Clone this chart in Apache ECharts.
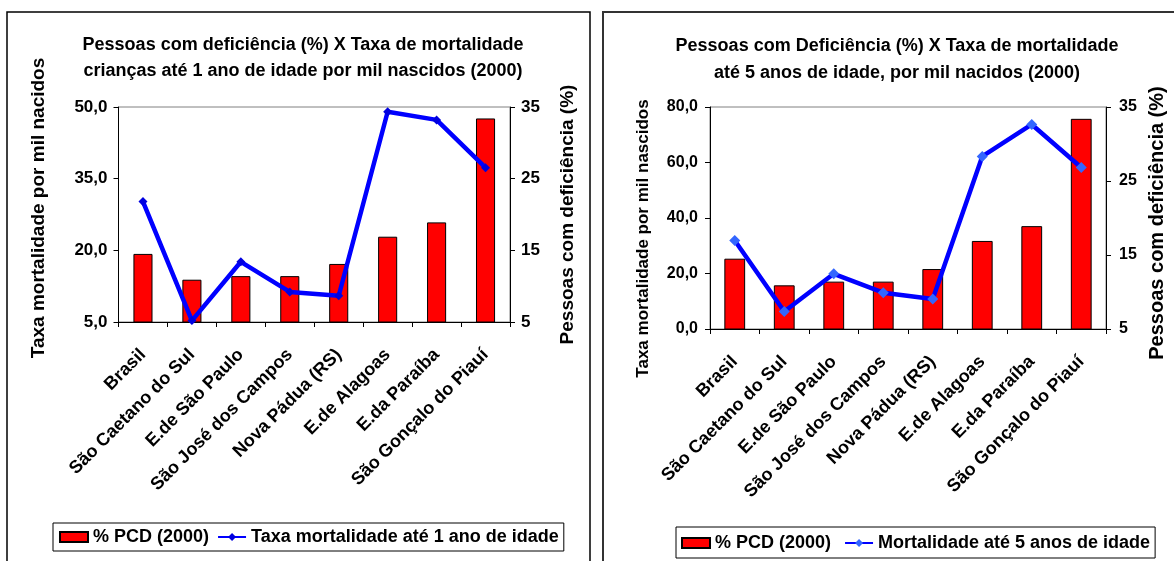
<!DOCTYPE html>
<html>
<head>
<meta charset="utf-8">
<script src="https://cdn.jsdelivr.net/npm/echarts@6/dist/echarts.min.js"></script>
<style>
  html, body { margin: 0; padding: 0; background: #fff; }
  #chart { width: 1174px; height: 561px; }
</style>
</head>
<body>
<div id="chart"></div>
<script>
// municípios / estados comparados
const categories = [
  'Brasil', 'São Caetano do Sul', 'E.de São Paulo', 'São José dos Campos',
  'Nova Pádua (RS)', 'E.de Alagoas', 'E.da Paraíba', 'São Gonçalo do Piauí'
]
// % de pessoas com deficiência (eixo direito)
const pcd = [14.5, 10.9, 11.4, 11.4, 13.1, 16.9, 18.9, 33.4]
// mortalidade até 1 ano, por mil nascidos
const mort1 = [30.2, 5.3, 17.6, 11.3, 10.5, 49.0, 47.3, 37.3]
// mortalidade até 5 anos, por mil nascidos
const mort5 = [31.9, 6.3, 19.9, 13.1, 10.8, 62.2, 73.7, 58.2]

const font = 'Liberation Sans, Arial, sans-serif'
const fmt1 = (v) => v.toFixed(1).replace('.', ',')
const bold = (size) => ({ color: '#000', fontFamily: font, fontWeight: 'bold', fontSize: size })

const chart = echarts.init(document.getElementById('chart'), undefined, { renderer: 'canvas' })

const xAxisBase = {
  type: 'category',
  data: categories,
  axisLine: { lineStyle: { color: '#000', width: 1 } },
  axisTick: { show: true, length: 5, lineStyle: { color: '#000' } },
  axisLabel: { ...bold(18), rotate: 45, margin: 30, interval: 0 },
  splitLine: { show: false }
}

const yBase = {
  type: 'value',
  nameLocation: 'middle',
  nameRotate: 90,
  axisLine: { show: true, lineStyle: { color: '#000', width: 1 } },
  axisTick: { show: true, length: 5, lineStyle: { color: '#000' } },
  splitLine: { show: false }
}

const titleStyle = { ...bold(18), lineHeight: 26 }

chart.setOption({
  animation: false,
  backgroundColor: '#fff',
  graphic: [
    { type: 'rect', shape: { x: 7, y: 12, width: 583, height: 580 },
      style: { fill: 'none', stroke: '#000', lineWidth: 1.5 } },
    { type: 'rect', shape: { x: 603, y: 12, width: 620, height: 580 },
      style: { fill: 'none', stroke: '#333', lineWidth: 2 } }
  ],
  title: [
    { text: 'Pessoas com deficiência (%) X Taxa de mortalidade\ncrianças até 1 ano de idade por mil nascidos (2000)',
      left: 298, top: 27, textAlign: 'center', textStyle: titleStyle },
    { text: 'Pessoas com Deficiência (%) X Taxa de mortalidade\naté 5 anos de idade, por mil nacidos (2000)',
      left: 892, top: 28, textAlign: 'center', textStyle: { ...titleStyle, lineHeight: 27 } }
  ],
  legend: [
    { left: 53, top: 523, padding: [5, 5, 5, 6],
      borderColor: '#000', borderWidth: 1, itemGap: 8, itemWidth: 28, itemHeight: 10,
      textStyle: bold(18),
      data: [{ name: '% PCD (2000)', icon: 'rect' }, { name: 'Taxa mortalidade até 1 ano de idade' }] },
    { left: 676, top: 527, padding: [7, 5, 6, 5],
      borderColor: '#000', borderWidth: 1, itemGap: 8, itemWidth: 28, itemHeight: 10,
      textStyle: bold(18),
      data: [{ name: '% PCD (2000) ', icon: 'rect' }, { name: 'Mortalidade até 5 anos de idade' }] }
  ],
  grid: [
    { left: 118.5, top: 107, width: 391.5, height: 215, show: true, borderColor: '#808080', borderWidth: 1, backgroundColor: 'transparent' },
    { left: 710, top: 107, width: 396, height: 222, show: true, borderColor: '#808080', borderWidth: 1, backgroundColor: 'transparent' }
  ],
  xAxis: [
    { ...xAxisBase, gridIndex: 0 },
    { ...xAxisBase, gridIndex: 1 }
  ],
  yAxis: [
    { ...yBase, gridIndex: 0, position: 'left', min: 5, max: 50, interval: 15,
      name: 'Taxa mortalidade por mil nacidos', nameGap: 70,
      nameTextStyle: { ...bold(19), padding: [0, 0, 0, 13] },
      axisLabel: { ...bold(17), margin: 11, formatter: fmt1 } },
    { ...yBase, gridIndex: 0, position: 'right', min: 5, max: 35, interval: 10,
      name: 'Pessoas com deficiência (%)', nameGap: 48,
      nameTextStyle: bold(19),
      axisLabel: { ...bold(17), margin: 11 } },
    { ...yBase, gridIndex: 1, position: 'left', min: 0, max: 80, interval: 20,
      name: 'Taxa mortalidade por mil nascidos', nameGap: 58,
      nameTextStyle: { ...bold(17), padding: [0, 41, 0, 0] },
      axisLabel: { ...bold(16), margin: 12, formatter: fmt1 } },
    { ...yBase, gridIndex: 1, position: 'right', min: 5, max: 35, interval: 10,
      name: 'Pessoas com deficiência (%)', nameGap: 41,
      nameTextStyle: { ...bold(20), padding: [0, 10, 0, 0] },
      axisLabel: { ...bold(16), margin: 13 } }
  ],
  series: [
    { name: '% PCD (2000)', type: 'bar', xAxisIndex: 0, yAxisIndex: 1, barWidth: '39%',
      itemStyle: { color: '#ff0000', borderColor: '#000', borderWidth: 1 }, data: pcd },
    { name: 'Taxa mortalidade até 1 ano de idade', type: 'line', xAxisIndex: 0, yAxisIndex: 0,
      symbol: 'diamond', symbolSize: 9, z: 5,
      lineStyle: { color: '#0000ff', width: 4.5 }, itemStyle: { color: '#0000e0' }, data: mort1 },
    { name: '% PCD (2000) ', type: 'bar', xAxisIndex: 1, yAxisIndex: 3, barWidth: '42%',
      itemStyle: { color: '#ff0000', borderColor: '#000', borderWidth: 1 }, data: pcd },
    { name: 'Mortalidade até 5 anos de idade', type: 'line', xAxisIndex: 1, yAxisIndex: 2,
      symbol: 'diamond', symbolSize: 11, z: 5,
      lineStyle: { color: '#0000ff', width: 4.5 }, itemStyle: { color: '#3366ff' }, data: mort5 }
  ]
})
</script>
</body>
</html>
